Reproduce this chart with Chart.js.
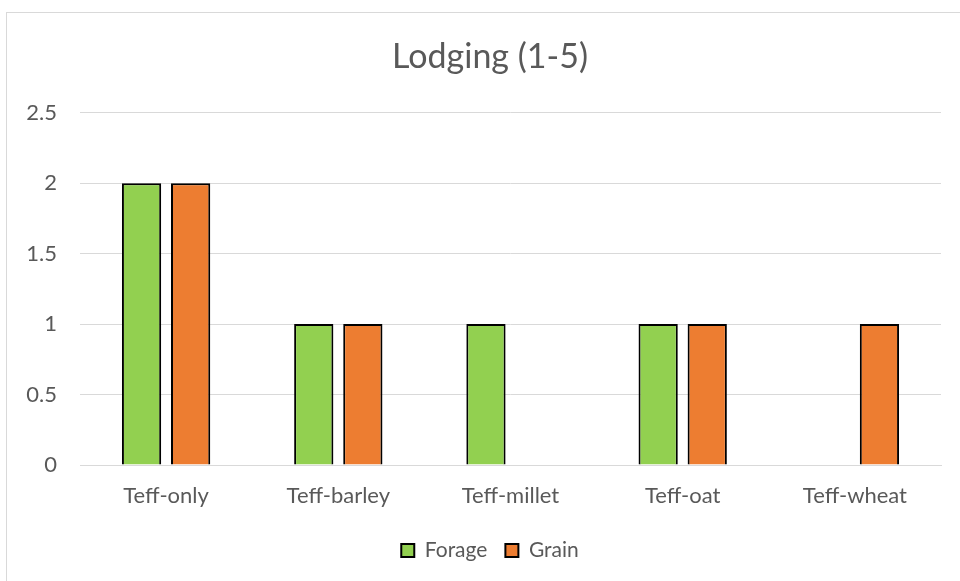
<!DOCTYPE html>
<html>
<head>
<meta charset="utf-8">
<script src="https://cdn.jsdelivr.net/npm/chart.js@4/dist/chart.umd.min.js"></script>
<style>
  html, body { margin: 0; padding: 0; background: #fff; overflow: hidden; }
  #wrap { position: relative; width: 960px; height: 581px; overflow: hidden; }
  #c { position: absolute; left: 0; top: 0; }
</style>
</head>
<body>
<div id="wrap"><canvas id="c" width="982" height="581"></canvas></div>
<script>
// Lodging scores by cropping system
const categories = ['Teff-only', 'Teff-barley', 'Teff-millet', 'Teff-oat', 'Teff-wheat'];
const forage = [2, 1, 1, 1, null];
const grain = [2, 1, null, 1, 1];
const yTicks = [0, 0.5, 1, 1.5, 2, 2.5];

const FONT = 'Lato, "Open Sans", sans-serif';
const TEXT = '#595959';
const GRID = '#d9d9d9';

// thin outer frame around the chart; y tick labels may extend past the narrow axis box
const framePlugin = {
  id: 'frame',
  beforeDraw(chart) {
    if (chart.scales.y) chart.scales.y._computeLabelArea = () => undefined;
    const ctx = chart.ctx;
    ctx.save();
    ctx.fillStyle = '#fff';
    ctx.fillRect(0, 0, chart.width, chart.height);
    ctx.strokeStyle = GRID;
    ctx.lineWidth = 1;
    ctx.strokeRect(6.5, 12.5, chart.width + 10, chart.height + 10);
    ctx.restore();
  }
};

new Chart(document.getElementById('c'), {
  type: 'bar',
  data: {
    labels: categories,
    datasets: [
      { label: 'Forage', data: forage, backgroundColor: '#92D050', borderColor: '#000', borderWidth: 2 },
      { label: 'Grain', data: grain, backgroundColor: '#ED7D31', borderColor: '#000', borderWidth: 2 }
    ]
  },
  options: {
    responsive: false,
    animation: false,
    datasets: { bar: { categoryPercentage: 0.57, barPercentage: 0.8, borderSkipped: 'bottom' } },
    layout: { padding: { left: 39, right: 41, top: 0, bottom: 10 } },
    plugins: {
      title: {
        display: true,
        text: 'Lodging (1-5)',
        color: TEXT,
        font: { family: FONT, size: 34, weight: 'normal' },
        padding: { top: 37, bottom: 35 }
      },
      legend: {
        position: 'bottom',
        labels: {
          color: TEXT,
          font: { family: FONT, size: 21 },
          boxWidth: 13,
          boxHeight: 13,
          padding: 18
        }
      },
      tooltip: { enabled: false }
    },
    scales: {
      x: {
        grid: { display: false, drawTicks: false },
        border: { display: true, color: GRID, width: 1 },
        ticks: { color: TEXT, font: { family: FONT, size: 22 }, padding: 18 },
        afterFit(s) { s.height = 57; }
      },
      y: {
        min: 0,
        max: 2.5,
        afterBuildTicks(s) { s.ticks = yTicks.map(v => ({ value: v })); },
        grid: { color: GRID, drawTicks: false },
        border: { display: false },
        ticks: { color: TEXT, font: { family: FONT, size: 22 }, padding: 23, callback: v => String(v) },
        afterFit(s) { s.width = 41; }
      }
    }
  },
  plugins: [framePlugin]
});
</script>
</body>
</html>
